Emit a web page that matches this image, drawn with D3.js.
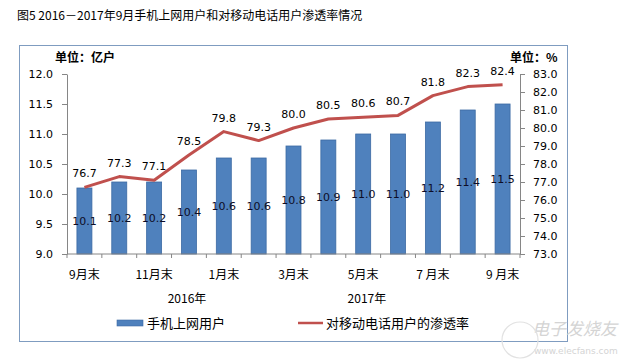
<!DOCTYPE html>
<html><head><meta charset="utf-8">
<script src="https://cdn.jsdelivr.net/npm/d3@7"></script>
<style>
html,body{margin:0;padding:0;background:#fff;}
svg{display:block;}
</style></head>
<body>
<svg id="c" width="640" height="364"></svg>
<script>
// ---- data ----
const categories = ["9月末","10月末","11月末","12月末","1月末","2月末","3月末","4月末","5月末","6月末","7月末","8月末","9月末"];
const tickLabels = ["9月末","","11月末","","1月末","","3月末","","5月末","","7 月末","","9 月末"];
const mobileUsers = [10.1,10.2,10.2,10.4,10.6,10.6,10.8,10.9,11.0,11.0,11.2,11.4,11.5];
const penetration = [76.7,77.3,77.1,78.5,79.8,79.3,80.0,80.5,80.6,80.7,81.8,82.3,82.4];
const leftTicks = [9.0,9.5,10.0,10.5,11.0,11.5,12.0];
const rightTicks = [73,74,75,76,77,78,79,80,81,82,83];
const yearLabels = ["2016年","2017年"];

const svg = d3.select("#c");
const cjk = "'Noto Sans CJK SC','Noto Sans',sans-serif";
const num = "'DejaVu Sans','Noto Sans',sans-serif";

// title
svg.append("text").attr("x",17).attr("y",20).attr("font-family",cjk).attr("font-size",12).attr("fill","#000")
  .text("图5 2016－2017年9月手机上网用户和对移动电话用户渗透率情况");

// frame
svg.append("rect").attr("x",19.5).attr("y",45.5).attr("width",548).attr("height",296)
  .attr("fill","none").attr("stroke","#7F9CC0").attr("stroke-width",1);

const x0 = 67, x1 = 520, yTop = 74, yBot = 254;
const x = d3.scaleBand().domain(d3.range(categories.length)).range([x0,x1]).paddingInner(0.57).paddingOuter(0.285);
const yL = d3.scaleLinear().domain([9,12]).range([yBot,yTop]);
const yR = d3.scaleLinear().domain([73,83]).range([yBot,yTop]);

// units
svg.append("text").attr("x",55).attr("y",62).attr("font-family",cjk).attr("font-size",12).attr("font-weight","bold").text("单位：亿户");
svg.append("text").attr("x",510).attr("y",62).attr("font-family",cjk).attr("font-size",12).attr("font-weight","bold").text("单位：%");

// left axis
const gl = svg.append("g").attr("transform",`translate(${x0},0)`)
  .call(d3.axisLeft(yL).tickValues(leftTicks).tickFormat(d3.format(".1f")).tickSize(5).tickSizeOuter(0).tickPadding(9));
// right axis
const gr = svg.append("g").attr("transform",`translate(${x1},0)`)
  .call(d3.axisRight(yR).tickValues(rightTicks).tickFormat(d3.format(".1f")).tickSize(5).tickSizeOuter(0).tickPadding(8));
[gl,gr].forEach(g=>{
  g.select(".domain").attr("stroke","#868686");
  g.selectAll(".tick line").attr("stroke","#868686");
  g.selectAll(".tick text").attr("font-family",num).attr("font-size",11).attr("fill","#000");
});

// bars
svg.append("g").selectAll("rect").data(mobileUsers).join("rect")
  .attr("x",(d,i)=>x(i)).attr("width",x.bandwidth())
  .attr("y",d=>yL(d)).attr("height",d=>yBot-yL(d))
  .attr("fill","#4F81BD").attr("stroke","#3C6AA3").attr("stroke-width",0.8);

// bottom axis
const gb = svg.append("g").attr("transform",`translate(0,${yBot})`)
  .call(d3.axisBottom(x).tickFormat(i=>tickLabels[i]).tickSize(0).tickPadding(16));
gb.select(".domain").attr("stroke","#868686").attr("d",`M${x0},0H${x1}`);
gb.selectAll(".tick text").attr("font-family",cjk).attr("font-size",12).attr("fill","#000");
const step = x.step();
gb.append("g").selectAll("line").data(d3.range(categories.length+1)).join("line")
  .attr("x1",i=>x0+i*step).attr("x2",i=>x0+i*step).attr("y1",0).attr("y2",4).attr("stroke","#868686");

// year labels
const yearPos = [x(3)+x.bandwidth()*0.37, x(8)+x.bandwidth()*0.75];
svg.append("g").selectAll("text").data(yearLabels).join("text")
  .attr("x",(d,i)=>yearPos[i]).attr("y",303).attr("text-anchor","middle")
  .attr("font-family",cjk).attr("font-size",12).attr("fill","#000").text(d=>d);

// bar labels
svg.append("g").selectAll("text").data(mobileUsers).join("text")
  .attr("x",(d,i)=>x(i)+x.bandwidth()/2).attr("y",d=>(yL(d)+yBot)/2).attr("dy","0.35em")
  .attr("text-anchor","middle").attr("font-family",num).attr("font-size",11).attr("fill","#0d0d26")
  .text(d=>d3.format(".1f")(d));

// line
const cx = i=>x(i)+x.bandwidth()/2;
svg.append("path").datum(penetration)
  .attr("d",d3.line().x((d,i)=>cx(i)).y(d=>yR(d)))
  .attr("fill","none").attr("stroke","#C0504D").attr("stroke-width",3).attr("stroke-linejoin","round");
svg.append("g").selectAll("text").data(penetration).join("text")
  .attr("x",(d,i)=>cx(i)).attr("y",d=>yR(d)-10)
  .attr("text-anchor","middle").attr("font-family",num).attr("font-size",11).attr("fill","#000")
  .text(d=>d3.format(".1f")(d));

// legend
svg.append("rect").attr("x",117).attr("y",320).attr("width",26).attr("height",6).attr("fill","#4F81BD").attr("stroke","#3C6AA3").attr("stroke-width",0.6);
svg.append("text").attr("x",147).attr("y",328).attr("font-family",cjk).attr("font-size",13).text("手机上网用户");
svg.append("line").attr("x1",298).attr("x2",323).attr("y1",323).attr("y2",323).attr("stroke","#C0504D").attr("stroke-width",2.5);
svg.append("text").attr("x",326).attr("y",328).attr("font-family",cjk).attr("font-size",13).text("对移动电话用户的渗透率");

// watermark
svg.append("text").attr("x",532).attr("y",335).attr("font-family",cjk).attr("font-size",17).attr("font-style","italic").attr("fill","#d4d4d4").text("电子发烧友");
svg.append("text").attr("x",534).attr("y",354).attr("font-family",num).attr("font-size",9).attr("fill","#d4d4d4").text("www.elecfans.com");
svg.append("circle").attr("cx",520).attr("cy",340).attr("r",18).attr("fill","none").attr("stroke","#e2e2e2").attr("stroke-width",1.2);
</script>
</body></html>
